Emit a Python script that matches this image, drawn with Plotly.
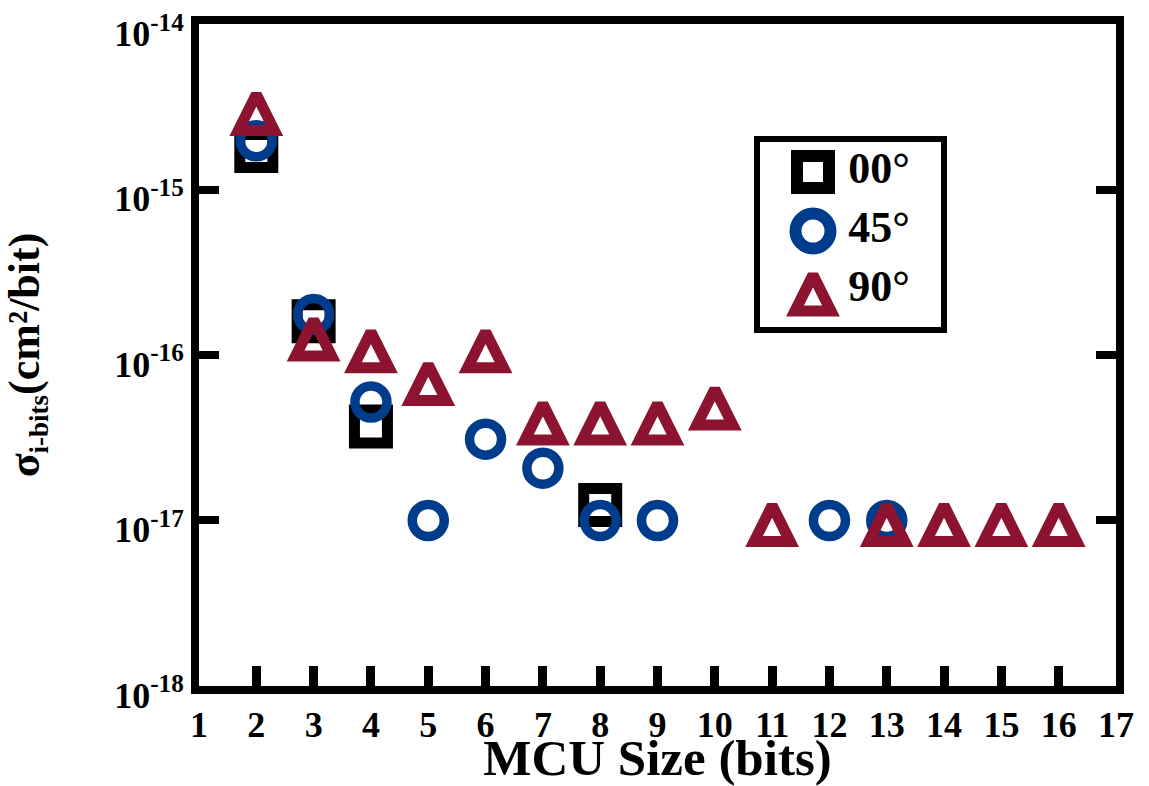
import plotly.graph_objects as go

# ---------------- data ----------------
x_00 = [2, 3, 4, 8]
y_00 = [1.71e-15, 1.60e-16, 3.7e-17, 1.24e-17]

x_45 = [2, 3, 4, 5, 6, 7, 8, 9, 12, 13]
y_45 = [1.97e-15, 1.76e-16, 5.2e-17, 1.0e-17, 3.1e-17, 2.07e-17, 1.0e-17, 1.0e-17, 1.0e-17, 1.0e-17]

x_90 = [2, 3, 4, 5, 6, 7, 8, 9, 10, 11, 13, 14, 15, 16]
y_90 = [3.05e-15, 1.32e-16, 1.12e-16, 7.1e-17, 1.12e-16, 4.1e-17, 4.1e-17, 4.1e-17, 5.05e-17,
        1.0e-17, 1.0e-17, 1.0e-17, 1.0e-17, 1.0e-17]

series_names = ["00°", "45°", "90°"]
x_tick_vals = list(range(1, 18))
y_tick_exps = [-18, -17, -16, -15, -14]
y_tick_labels = ["10<sup>-18</sup>", "10<sup>-17</sup>", "10<sup>-16</sup>", "10<sup>-15</sup>", "10<sup>-14</sup>"]
x_title = "MCU Size (bits)"
y_title = "σ<sub><span style='font-size:27px'>i-bits</span></sub>(cm²/bit)"

# ---------------- styles ----------------
FONT = "Liberation Serif"
symbols = ["square-open", "circle-open", "arrow-down-open"]
angles = [0, 0, 180]
colors = ["#000000", "#003c8c", "#8c1430"]
plot_sizes = [33, 32, 36]
plot_lw = [11, 9.5, 11]
plot_standoff = [0, 0, 15]
leg_sizes = [32, 35, 36]
leg_lw = [12, 12, 11]
leg_standoff = [0, 0, 15]

W, H = 1149, 786
L, R, T, B = 199, 1116, 24, 686   # plot area in pixels
pw, ph = R - L, B - T


def px_x(p):
    return (p - L) / pw


def px_y(p):
    return (B - p) / ph


fig = go.Figure()

series = [(x_00, y_00), (x_45, y_45), (x_90, y_90)]
for i, (xs, ys) in enumerate(series):
    fig.add_trace(go.Scatter(
        x=xs, y=ys, mode="markers", name=series_names[i], showlegend=False,
        cliponaxis=False,
        marker=dict(symbol=symbols[i], size=plot_sizes[i], color=colors[i],
                    angle=angles[i], standoff=plot_standoff[i],
                    line=dict(width=plot_lw[i], color=colors[i])),
    ))

# empty trace for tick-only overlay axes
fig.add_trace(go.Scatter(x=[], y=[], xaxis="x2", yaxis="y2", showlegend=False))

# custom legend (large markers) on a helper subplot
n = len(series_names)
for i in range(n):
    row = n - 1 - i
    fig.add_trace(go.Scatter(
        x=[0], y=[row], xaxis="x3", yaxis="y3", mode="markers", showlegend=False,
        cliponaxis=False,
        marker=dict(symbol=symbols[i], size=leg_sizes[i], color=colors[i],
                    angle=angles[i], standoff=leg_standoff[i],
                    line=dict(width=leg_lw[i], color=colors[i])),
    ))
    fig.add_trace(go.Scatter(
        x=[0.27], y=[row], xaxis="x3", yaxis="y3", mode="text", showlegend=False,
        cliponaxis=False, text=[series_names[i]], textposition="middle right",
        textfont=dict(family=FONT, size=44, color="black", weight="bold"),
    ))

tickfont = dict(family=FONT, size=36, color="black", weight="bold")
yvals = [10.0 ** e for e in y_tick_exps]
yrange = [-18.0005, -13.9995]

fig.update_layout(
    width=W, height=H,
    margin=dict(l=L, r=W - R, t=T, b=H - B, pad=0, autoexpand=False),
    paper_bgcolor="white", plot_bgcolor="white",
    showlegend=False,
    font=dict(family=FONT, color="black"),
    xaxis=dict(
        range=[1, 17], tickmode="array", tickvals=x_tick_vals, automargin=False,
        ticktext=[str(v) for v in x_tick_vals], ticks="", ticklabelstandoff=0,
        ticklabeloverflow="allow",
        showline=True, linewidth=8, linecolor="black", mirror=True,
        showgrid=False, zeroline=False, tickfont=tickfont,
        title=dict(text=x_title, font=dict(family=FONT, size=51, color="black", weight="bold"),
                   standoff=12),
    ),
    yaxis=dict(
        type="log", range=yrange, tickmode="array", tickvals=yvals, automargin=False,
        ticktext=y_tick_labels, ticks="", ticklabelshift=9, ticklabeloverflow="allow",
        showline=True, linewidth=8, linecolor="black", mirror=True,
        showgrid=False, zeroline=False, tickfont=tickfont,
        title=dict(text=y_title, font=dict(family=FONT, size=44, color="black", weight="bold"),
                   standoff=66),
    ),
    xaxis2=dict(
        overlaying="x", anchor="y", side="bottom", range=[1, 17], tickmode="array",
        tickvals=x_tick_vals[1:-1], ticks="inside", ticklen=20, tickwidth=9, tickcolor="black",
        showticklabels=False, showline=False, showgrid=False, zeroline=False, automargin=False,
    ),
    yaxis2=dict(
        overlaying="y", anchor="x", side="left", type="log", range=yrange, tickmode="array",
        tickvals=yvals[1:-1], ticks="inside", ticklen=20, tickwidth=8, tickcolor="black",
        mirror="ticks", showticklabels=False, showline=False, showgrid=False, zeroline=False,
        automargin=False,
    ),
    xaxis3=dict(domain=[px_x(813), px_x(944)], range=[0, 1], anchor="y3", visible=False),
    yaxis3=dict(domain=[px_y(290), px_y(172)], range=[0, 2], anchor="x3", visible=False),
    shapes=[dict(type="rect", xref="paper", yref="paper",
                 x0=px_x(757), x1=px_x(944), y0=px_y(330), y1=px_y(139),
                 line=dict(color="black", width=6), fillcolor="rgba(0,0,0,0)", layer="above")],
)

fig.write_html("out.html")
